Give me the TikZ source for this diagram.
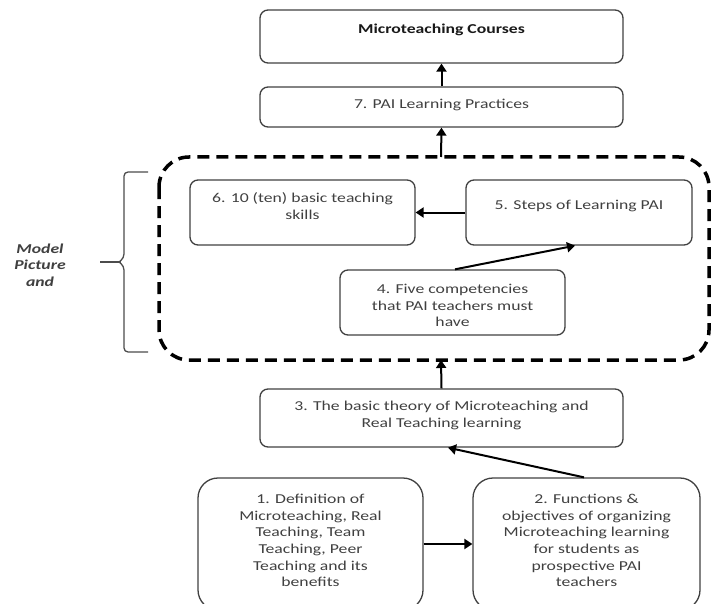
\documentclass[tikz,border=0pt]{standalone}
\usepackage{fontspec}
\setmainfont{Carlito}[FakeStretch=1.3]
\usetikzlibrary{arrows.meta}
\begin{document}
\begin{tikzpicture}[x=1pt,y=-1pt,
  box/.style={draw=black!75, line width=1.3pt, rounded corners=8pt, inner sep=0pt},
  bigbox/.style={draw=black!75, line width=1.3pt, rounded corners=20pt, inner sep=0pt},
  txt/.style={align=center, text=black!75, font=\fontsize{13.6}{16.6}\selectfont, inner sep=0pt},
  arr/.style={line width=2pt, -{Triangle[length=8pt,width=10pt]}},
  dashbox/.style={draw=black, line width=3.5pt, dash pattern=on 12pt off 7pt, rounded corners=30pt}
]
\useasboundingbox (0,0) rectangle (711,604);
% top boxes
\node[box, minimum width=363, minimum height=53] (mc) at (441.5,36.5) {};
\node[txt, text=black!90, font=\fontsize{13.6}{16.6}\selectfont\bfseries] (mct) at (441.5,30) {Microteaching Courses};
\node[box, minimum width=363, minimum height=40] (b7) at (441.5,107) {};
\node[txt] (t7) at (441.5,105) {7. PAI Learning Practices};
% dashed group
\draw[dashbox] (159,157) rectangle (709,360);
\coordinate (dtop) at (441,157);
\coordinate (dbot) at (441,360);
\node[box, minimum width=225, minimum height=65] (b6) at (302.5,212.5) {};
\node[txt] (t6) at (302.5,206) {6. 10 (ten) basic teaching\\skills};
\node[box, minimum width=226, minimum height=65] (b5) at (579,212.5) {};
\node[txt] (t5) at (579,206) {5. Steps of Learning PAI};
\node[box, minimum width=225, minimum height=65] (b4) at (452.5,302.5) {};
\node[txt] (t4) at (452.5,305.5) {4. Five competencies\\that PAI teachers must\\have};
% box 3
\node[box, minimum width=363, minimum height=58] (b3) at (441.5,418) {};
\node[txt] (t3) at (441.5,415.5) {3. The basic theory of Microteaching and\\Real Teaching learning};
% bottom boxes
\node[bigbox, minimum width=225, minimum height=132] (b1) at (310.5,544) {};
\node[txt] (t1) at (310.5,540.5) {1. Definition of\\Microteaching, Real\\Teaching, Team\\Teaching, Peer\\Teaching and its\\benefits};
\node[bigbox, minimum width=227, minimum height=132] (b2) at (586.5,544) {};
\node[txt] (t2) at (586.5,540.5) {2. Functions \&\\objectives of organizing\\Microteaching learning\\for students as\\prospective PAI\\teachers};
% brace and label
\draw[black!70, line width=1.3pt, rounded corners=4pt] (148,172) -| (124,258) -- (119,262);
\draw[black!70, line width=1.3pt, rounded corners=4pt] (148,352) -| (124,266) -- (119,262);
\draw[black!70, line width=1.3pt] (100,262) -- (121,262);
\node[txt, font=\fontsize{13.6}{16.6}\selectfont\bfseries\itshape] (lab) at (40,265) {Model\\Picture\\and};
% arrows
\draw[arr] (b7.north) -- (mc.south);
\draw[arr] (dtop) -- (b7.south);
\draw[arr] (b3.north) -- (dbot);
\draw[arr] (b5.west) -- (b6.east);
\draw[arr] (b4.north -| 455,0) -- (b5.south -| 575,0);
\draw[arr] (b1.east) -- (b2.west);
\draw[arr] (b2.north -| 584,0) -- (b3.south -| 448,0);
\end{tikzpicture}
\end{document}
